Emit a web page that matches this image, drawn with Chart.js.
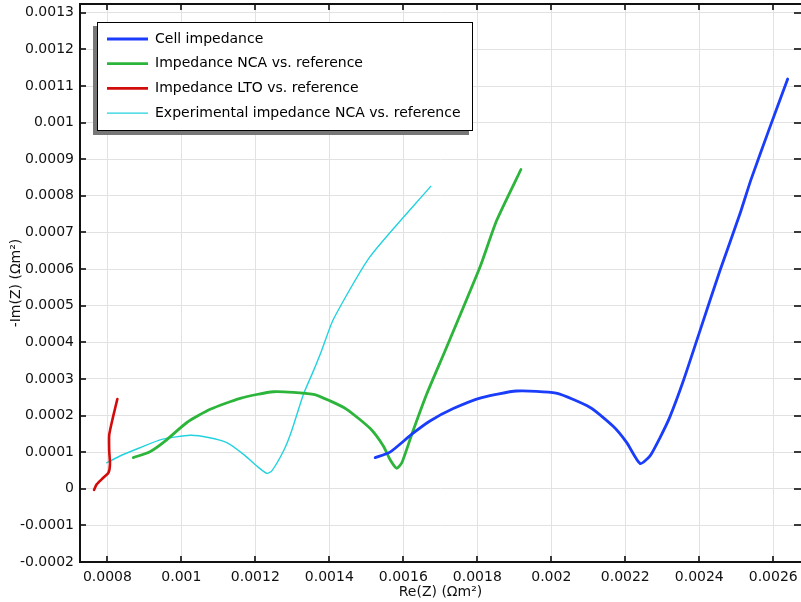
<!DOCTYPE html>
<html>
<head>
<meta charset="utf-8">
<script src="https://cdn.jsdelivr.net/npm/chart.js@4"></script>
<style>
  html, body { margin: 0; padding: 0; background: #fff; }
  #wrap { width: 801px; height: 602px; }
</style>
</head>
<body>
<div id="wrap"><canvas id="nyquist" width="801" height="602"></canvas></div>
<script>
// values (Re(Z), -Im(Z) in ohm m^2)
const cellRe = [0.001524, 0.001564, 0.001623, 0.001672, 0.001735, 0.001812, 0.001906, 0.002013, 0.002105, 0.002168, 0.002204, 0.002240, 0.002267, 0.002294, 0.002320, 0.002357, 0.002402, 0.002456, 0.002510, 0.002540, 0.002590, 0.002639];
const cellIm = [0.0000850, 0.000100, 0.000149, 0.000185, 0.000219, 0.000249, 0.000267, 0.000261, 0.000222, 0.000170, 0.000126, 0.0000690, 0.0000900, 0.000140, 0.000195, 0.000295, 0.000432, 0.000596, 0.000751, 0.000845, 0.000985, 0.001119];

const ncaRe = [0.000870, 0.000915, 0.000956, 0.001015, 0.001078, 0.001159, 0.001249, 0.001357, 0.001402, 0.001447, 0.001510, 0.001546, 0.001564, 0.001582, 0.001596, 0.001623, 0.001663, 0.001713, 0.001807, 0.001852, 0.001918];
const ncaIm = [0.0000850, 0.000101, 0.000130, 0.000181, 0.000217, 0.000247, 0.000265, 0.000258, 0.000240, 0.000217, 0.000165, 0.000117, 0.0000800, 0.0000560, 0.0000710, 0.000149, 0.000258, 0.000377, 0.000605, 0.000732, 0.000872];

const ltoRe = [0.000764, 0.000771, 0.000789, 0.000803, 0.000807, 0.000805, 0.000805, 0.000816, 0.000827];
const ltoIm = [-0.000003, 0.000012, 0.000030, 0.000044, 0.0000670, 0.000103, 0.000147, 0.000199, 0.000245];

const expRe = [0.000798, 0.000834, 0.000888, 0.000947, 0.001024, 0.001073, 0.001123, 0.001168, 0.001204, 0.001231, 0.001244, 0.001276, 0.001298, 0.001330, 0.001357, 0.001379, 0.001411, 0.001510, 0.001674];
const expIm = [0.0000710, 0.0000895, 0.000112, 0.000135, 0.000146, 0.000140, 0.000126, 0.0000940, 0.0000620, 0.0000420, 0.0000480, 0.000103, 0.000158, 0.000258, 0.000322, 0.000377, 0.000463, 0.000634, 0.000826];

const seriesNames = ['Cell impedance', 'Impedance NCA vs. reference', 'Impedance LTO vs. reference', 'Experimental impedance NCA vs. reference'];
const seriesColors = ['#1a3dfb', '#2cb53a', '#d20b0b', '#22d2df'];
const seriesWidths = [2.8, 2.8, 2.6, 1.4];

const xTicks = [0.0008, 0.001, 0.0012, 0.0014, 0.0016, 0.0018, 0.002, 0.0022, 0.0024, 0.0026];
const yTicks = [-0.0002, -0.0001, 0, 0.0001, 0.0002, 0.0003, 0.0004, 0.0005, 0.0006, 0.0007, 0.0008, 0.0009, 0.001, 0.0011, 0.0012, 0.0013];

const FONT = 'DejaVu Sans';

function pts(re, im) {
    return re.map((x, i) => ({ x: x, y: im[i] }));
}

function fmt(v) {
    return String(Number(v.toFixed(5)));
}

// frame, inward tick marks and the boxed legend with its shadow
const decor = {
    id: 'decor',
    afterDraw(chart) {
        const ctx = chart.ctx;
        const a = chart.chartArea;
        const xs = chart.scales.x, ys = chart.scales.y;
        ctx.save();
        ctx.strokeStyle = '#3a3a3a';
        ctx.lineWidth = 2;
        ctx.beginPath();
        xTicks.forEach(v => {
            const px = Math.round(xs.getPixelForValue(v));
            ctx.moveTo(px, a.bottom); ctx.lineTo(px, a.bottom - 6);
            ctx.moveTo(px, a.top); ctx.lineTo(px, a.top + 6);
        });
        yTicks.forEach(v => {
            const py = Math.round(ys.getPixelForValue(v));
            ctx.moveTo(a.left, py); ctx.lineTo(a.left + 6, py);
            ctx.moveTo(a.right, py); ctx.lineTo(a.right - 7, py);
        });
        ctx.stroke();

        // left, top and bottom axis lines (right one sits off the canvas)
        ctx.strokeStyle = '#111';
        ctx.lineWidth = 2;
        ctx.beginPath();
        ctx.moveTo(a.right, a.top); ctx.lineTo(a.left, a.top);
        ctx.lineTo(a.left, a.bottom); ctx.lineTo(a.right, a.bottom);
        ctx.stroke();

        // legend
        const bx = 97, by = 22, bw = 376, bh = 109;
        ctx.fillStyle = '#777';
        ctx.fillRect(bx - 4, by + 4, bw, bh);
        ctx.fillStyle = '#fff';
        ctx.fillRect(bx, by, bw, bh);
        ctx.strokeStyle = '#000';
        ctx.lineWidth = 1;
        ctx.strokeRect(bx + 0.5, by + 0.5, bw - 1, bh - 1);

        ctx.font = '14px "' + FONT + '"';
        ctx.textBaseline = 'middle';
        ctx.textAlign = 'left';
        seriesNames.forEach((name, i) => {
            const ry = 39 + i * 24.7;
            ctx.strokeStyle = seriesColors[i];
            ctx.lineWidth = seriesWidths[i];
            ctx.beginPath();
            ctx.moveTo(107, ry); ctx.lineTo(148, ry);
            ctx.stroke();
            ctx.fillStyle = '#000';
            ctx.fillText(name, 155, ry);
        });
        ctx.restore();
    }
};

const lists = [[cellRe, cellIm], [ncaRe, ncaIm], [ltoRe, ltoIm], [expRe, expIm]];

new Chart(document.getElementById('nyquist'), {
    type: 'scatter',
    data: {
        datasets: lists.map((l, i) => ({
            label: seriesNames[i],
            data: pts(l[0], l[1]),
            showLine: true,
            borderColor: seriesColors[i],
            backgroundColor: seriesColors[i],
            borderWidth: seriesWidths[i],
            pointRadius: 0,
            tension: 0.2,
            borderJoinStyle: 'round',
            borderCapStyle: 'round'
        }))
    },
    options: {
        responsive: false,
        animation: false,
        layout: { padding: { top: 4, right: 0, left: 0, bottom: 0 } },
        plugins: {
            legend: { display: false },
            tooltip: { enabled: false }
        },
        scales: {
            x: {
                type: 'linear',
                min: 0.000726,
                max: 0.002675,
                afterBuildTicks: s => { s.ticks = xTicks.map(v => ({ value: v })); },
                afterFit: s => { s.height = 40; s.paddingLeft = 0; s.paddingRight = 0; },
                grid: { color: '#e2e2e2', lineWidth: 1, drawTicks: false },
                border: { display: false },
                ticks: {
                    padding: 7,
                    color: '#111',
                    maxRotation: 0,
                    font: { family: FONT, size: 14 },
                    callback: v => fmt(v)
                },
                title: {
                    display: true,
                    text: 'Re(Z) (Ωm²)',
                    color: '#111',
                    font: { family: FONT, size: 14 },
                    padding: { top: 0, bottom: 1 }
                }
            },
            y: {
                type: 'linear',
                min: -0.0002,
                max: 0.001324,
                afterBuildTicks: s => { s.ticks = yTicks.map(v => ({ value: v })); },
                afterFit: s => { s.width = 80; s.paddingTop = 0; s.paddingBottom = 0; },
                grid: { color: '#e2e2e2', lineWidth: 1, drawTicks: false },
                border: { display: false },
                ticks: {
                    padding: 6,
                    color: '#111',
                    font: { family: FONT, size: 14 },
                    callback: v => fmt(v)
                },
                title: {
                    display: true,
                    text: '-Im(Z) (Ωm²)',
                    color: '#111',
                    font: { family: FONT, size: 14 },
                    padding: { top: 8, bottom: 0 }
                }
            }
        }
    },
    plugins: [decor]
});
</script>
</body>
</html>
